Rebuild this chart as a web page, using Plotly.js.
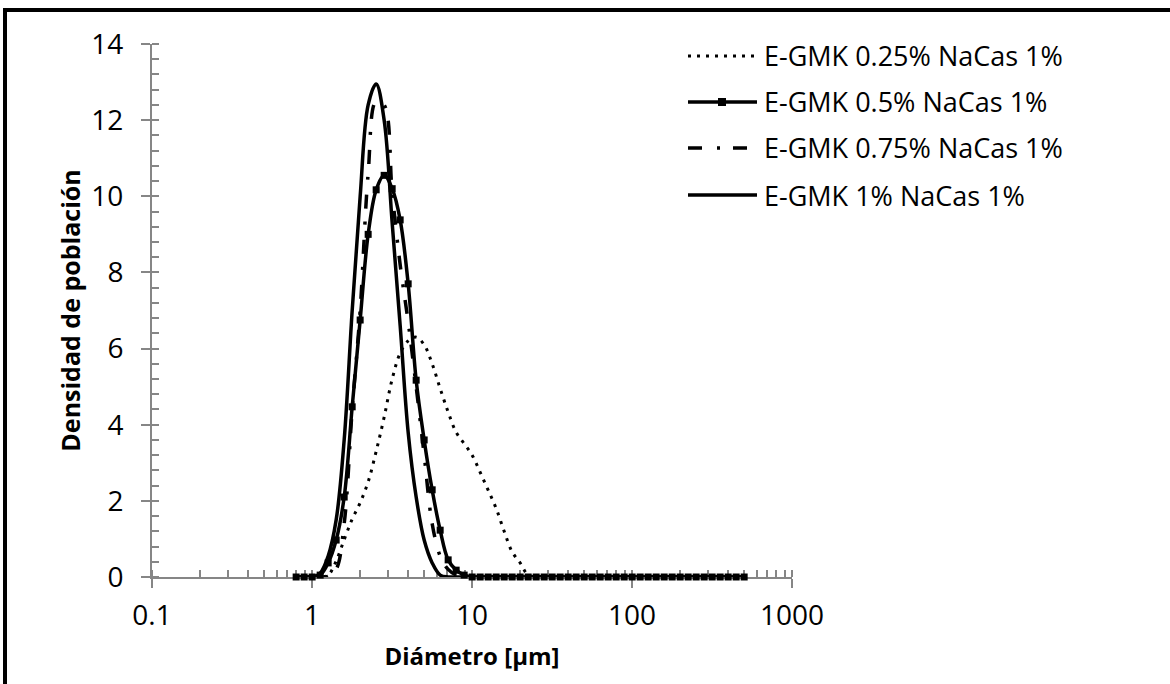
<!DOCTYPE html>
<html>
<head>
<meta charset="utf-8">
<script src="https://cdn.plot.ly/plotly-3.0.1.min.js"></script>
<style>html,body{margin:0;padding:0;background:#fff;}#chart{width:1170px;height:684px;}</style>
</head>
<body>
<div id="chart"></div>
<script>
// Particle diameter bins (µm)
const diameters = [0.796, 0.893, 1.002, 1.125, 1.262, 1.416, 1.589, 1.783, 2.000, 2.244,
  2.518, 2.825, 3.170, 3.557, 3.991, 4.477, 5.024, 5.637, 6.325, 7.096,
  7.962, 8.934, 10.024, 11.247, 12.619, 14.159, 15.887, 17.825, 20.000, 22.440,
  25.179, 28.251, 31.698, 35.566, 39.905, 44.774, 50.238, 56.368, 63.246, 70.963,
  79.621, 89.337, 100.237, 112.468, 126.191, 141.589, 158.866, 178.250, 200.000, 224.404,
  251.785, 282.508, 316.979, 355.656, 399.052, 447.744, 502.377];

const seriesNames = ["E-GMK 0.25% NaCas 1%", "E-GMK 0.5% NaCas 1%", "E-GMK 0.75% NaCas 1%", "E-GMK 1% NaCas 1%"];

const dens025 = [0, 0, 0, 0, 0.05, 0.42, 0.98, 1.52, 1.95, 2.5,
  3.3, 4.2, 5.2, 5.88, 6.2, 6.3, 6.1, 5.6, 4.95, 4.33,
  3.8, 3.5, 3.2, 2.75, 2.28, 1.8, 1.2, 0.66, 0.37, 0.05,
  0, 0, 0, 0, 0, 0, 0, 0, 0, 0,
  0, 0, 0, 0, 0, 0, 0, 0, 0, 0,
  0, 0, 0, 0, 0, 0, 0];

const dens05 = [0, 0, 0, 0.05, 0.37, 0.97, 2.1, 4.47, 6.75, 9.0,
  10.17, 10.55, 10.2, 9.38, 7.7, 5.17, 3.6, 2.29, 1.23, 0.45,
  0.18, 0.05, 0, 0, 0, 0, 0, 0, 0, 0,
  0, 0, 0, 0, 0, 0, 0, 0, 0, 0,
  0, 0, 0, 0, 0, 0, 0, 0, 0, 0,
  0, 0, 0, 0, 0, 0, 0];

const dens075 = [0, 0, 0, 0, 0.02, 0.2, 1.4, 4.4, 7.0, 10.6,
  12.5, 12.4, 10.1, 8.2, 6.7, 5.0, 3.2, 1.4, 0.55, 0.2,
  0.05, 0, 0, 0, 0, 0, 0, 0, 0, 0,
  0, 0, 0, 0, 0, 0, 0, 0, 0, 0,
  0, 0, 0, 0, 0, 0, 0, 0, 0, 0,
  0, 0, 0, 0, 0, 0, 0];

const dens1 = [0, 0, 0, 0.1, 0.55, 1.5, 3.6, 7.0, 10.0, 12.4,
  12.95, 12.0, 9.3, 6.6, 3.8, 2.1, 0.97, 0.37, 0.05, 0,
  0, 0, 0, 0, 0, 0, 0, 0, 0, 0,
  0, 0, 0, 0, 0, 0, 0, 0, 0, 0,
  0, 0, 0, 0, 0, 0, 0, 0, 0, 0,
  0, 0, 0, 0, 0, 0, 0];

const xTickVals = [0.1, 1, 10, 100, 1000];
const xTickText = ["0.1", "1", "10", "100", "1000"];

const FONT = "Open Sans, Noto Sans, sans-serif";
const AX = "#868686";
const dotDash = "3px,6px";
const dashDot = "14px,15px,3px,13px";

const traces = [
  {x: diameters, y: dens025, name: seriesNames[0], mode: "lines",
   line: {color: "#000", width: 3, dash: dotDash, shape: "spline", smoothing: 1}},
  {x: diameters, y: dens05, name: seriesNames[1], mode: "lines+markers",
   line: {color: "#000", width: 3.5, shape: "spline", smoothing: 1},
   marker: {symbol: "square", size: 7, color: "#000"}},
  {x: diameters, y: dens075, name: seriesNames[2], mode: "lines",
   line: {color: "#000", width: 3.5, dash: dashDot, shape: "spline", smoothing: 1}},
  {x: diameters, y: dens1, name: seriesNames[3], mode: "lines",
   line: {color: "#000", width: 3.5, shape: "spline", smoothing: 1}}
].map(t => Object.assign(t, {showlegend: false, cliponaxis: false}));

// pixel -> paper helpers (plot area 152..792 x, 44..577 y)
const PL = 152, PW = 640, PT = 44, PH = 533;
const px = v => (v - PL) / PW;
const py = v => (PT + PH - v) / PH;

const legRows = [56, 102, 148, 195];
const legX0 = 688, legX1 = 757, legText = 762;
const legDash = [dotDash, "solid", dashDot, "solid"];
const legWidth = [3, 3.5, 3.5, 3.5];

const shapes = [
  // outer chart frame (left and top edges visible)
  {type: "line", xref: "paper", yref: "paper", x0: px(5), x1: px(1300), y0: py(10), y1: py(10), line: {color: "#000", width: 4}},
  {type: "line", xref: "paper", yref: "paper", x0: px(5), x1: px(5), y0: py(8), y1: py(800), line: {color: "#000", width: 4}}
];
const annotations = [];
seriesNames.forEach((n, i) => {
  shapes.push({type: "line", xref: "paper", yref: "paper", x0: px(legX0), x1: px(i === 2 ? 747 : legX1),
    y0: py(legRows[i]), y1: py(legRows[i]), line: {color: "#000", width: legWidth[i], dash: legDash[i]}});
  annotations.push({xref: "paper", yref: "paper", x: px(legText), y: py(legRows[i]), xanchor: "left", yanchor: "middle",
    text: n, showarrow: false, font: {family: FONT, size: 27, color: "#000"}});
});
shapes.push({type: "rect", xref: "paper", yref: "paper", x0: px(718), x1: px(726), y0: py(legRows[1] - 4), y1: py(legRows[1] + 4),
  fillcolor: "#000", line: {width: 0}});

const layout = {
  width: 1170, height: 684,
  margin: {l: PL, r: 1170 - PL - PW, t: PT, b: 684 - PT - PH, pad: 0},
  paper_bgcolor: "#fff", plot_bgcolor: "#fff",
  font: {family: FONT, size: 28, color: "#000"},
  showlegend: false,
  xaxis: {
    type: "log", range: [-1, 3], tickvals: xTickVals, ticktext: xTickText,
    showgrid: false, zeroline: false, showline: true, linecolor: AX, linewidth: 2,
    ticks: "outside", ticklen: 9, tickwidth: 2, tickcolor: AX, layer: "below traces",
    ticklabelstandoff: 3,
    tickfont: {family: FONT, size: 28, color: "#000"},
    minor: {ticks: "inside", ticklen: 7, tickwidth: 2, tickcolor: AX, dtick: "D1", showgrid: false},
    title: {text: "Diámetro [µm]", font: {family: FONT, size: 24, color: "#000", weight: "bold"}, standoff: 17},
    fixedrange: true
  },
  yaxis: {
    range: [0, 14], dtick: 2, tick0: 0,
    showgrid: false, zeroline: false, showline: true, linecolor: AX, linewidth: 2,
    ticks: "outside", ticklen: 9, tickwidth: 2, tickcolor: AX, layer: "below traces",
    ticklabelstandoff: 12,
    tickfont: {family: FONT, size: 28, color: "#000"},
    minor: {ticks: "inside", ticklen: 7, tickwidth: 2, tickcolor: AX, dtick: 0.4, showgrid: false},
    title: {text: "Densidad de población", font: {family: FONT, size: 25, color: "#000", weight: "bold"}, standoff: 4},
    fixedrange: true
  },
  shapes: shapes,
  annotations: annotations
};

Plotly.newPlot("chart", traces, layout, {displayModeBar: false, staticPlot: true});
</script>
</body>
</html>
